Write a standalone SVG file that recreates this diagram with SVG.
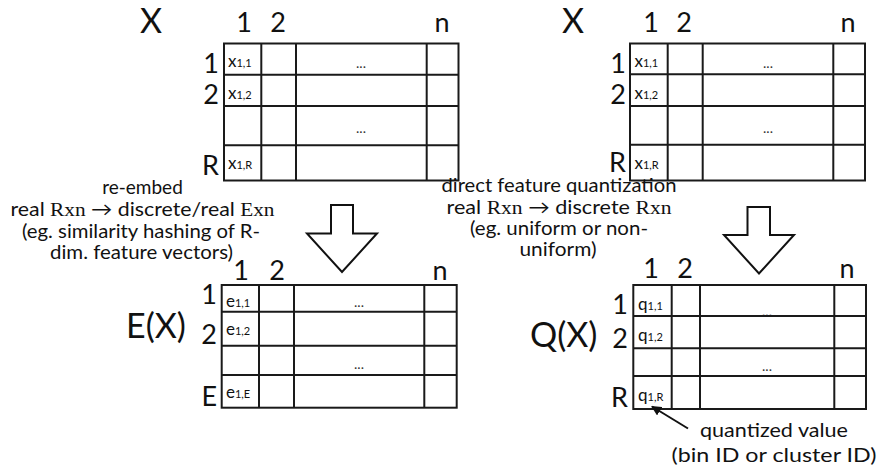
<svg xmlns="http://www.w3.org/2000/svg" width="879" height="470" viewBox="0 0 879 470">
<style>
  text { font-family: Lato, "Open Sans", "DejaVu Sans", sans-serif; fill: #111; }
  .big { font-size: 27px; }
  .huge { font-size: 34px; }
  .cell { font-size: 17px; }
  .sub { font-size: 11px; }
  .dots { font-size: 14px; fill: #333; text-anchor: middle; }
  .desc { font-size: 19px; text-anchor: middle; }
  .serif { font-family: "Liberation Serif", "Times New Roman", serif; }
  .grid { fill: none; stroke: #1a1a1a; stroke-width: 2; }
  .barrow { fill: #fff; stroke: #111; stroke-width: 2; stroke-linejoin: miter; }
  .conn { stroke: #111; stroke-width: 2; fill: none; }
  .mid { text-anchor: middle; }
  .end { text-anchor: end; }
</style>
<defs>
  <marker id="ah" viewBox="0 0 10 10" refX="9" refY="5" markerWidth="5" markerHeight="5" orient="auto">
    <path d="M0,0 L10,5 L0,10 Z" fill="#111"/>
  </marker>
</defs>

<!-- Top-left matrix X -->
<g id="matrix-x-left">
  <text class="huge mid" x="151" y="33">X</text>
  <text class="big mid" x="244" y="32">1</text>
  <text class="big mid" x="278" y="32">2</text>
  <text class="big mid" x="442" y="32">n</text>
  <text class="big end" x="219" y="73">1</text>
  <text class="big end" x="219" y="104">2</text>
  <text class="big end" x="219" y="175">R</text>
  <text class="dots" x="361" y="68">...</text>
  <text class="dots" x="361" y="133">...</text>
  <text class="cell" x="228" y="67">x<tspan class="sub">1,1</tspan></text>
  <text class="cell" x="228" y="99">x<tspan class="sub">1,2</tspan></text>
  <text class="cell" x="228" y="169">x<tspan class="sub">1,R</tspan></text>
  <rect class="grid" x="224" y="43.5" width="234.5" height="137"/>
  <path class="grid" d="M261.3,43.5V180.5M296,43.5V180.5M426.7,43.5V180.5M224,74.7H458.5M224,106H458.5M224,145.3H458.5"/>
</g>

<!-- Top-right matrix X -->
<g id="matrix-x-right">
  <text class="huge mid" x="573" y="33">X</text>
  <text class="big mid" x="651" y="32">1</text>
  <text class="big mid" x="684" y="32">2</text>
  <text class="big mid" x="848" y="32">n</text>
  <text class="big end" x="626" y="73">1</text>
  <text class="big end" x="626" y="104">2</text>
  <text class="big end" x="626" y="172">R</text>
  <text class="dots" x="768" y="68">...</text>
  <text class="dots" x="768" y="133">...</text>
  <text class="cell" x="634.5" y="67">x<tspan class="sub">1,1</tspan></text>
  <text class="cell" x="634.5" y="99">x<tspan class="sub">1,2</tspan></text>
  <text class="cell" x="634.5" y="169">x<tspan class="sub">1,R</tspan></text>
  <rect class="grid" x="630" y="43.5" width="235" height="137"/>
  <path class="grid" d="M667.7,43.5V180.5M702.7,43.5V180.5M833.3,43.5V180.5M630,74.3H865M630,106H865M630,144.7H865"/>
</g>

<!-- Bottom-left matrix E(X) -->
<g id="matrix-ex">
  <text class="huge" x="126" y="338">E(X)</text>
  <text class="big mid" x="241" y="280">1</text>
  <text class="big mid" x="277" y="280">2</text>
  <text class="big mid" x="440" y="280">n</text>
  <text class="big end" x="217" y="304">1</text>
  <text class="big end" x="217" y="344">2</text>
  <text class="big end" x="217" y="406">E</text>
  <text class="dots" x="359" y="307">...</text>
  <text class="dots" x="359" y="369">...</text>
  <text class="cell" x="226" y="307">e<tspan class="sub">1,1</tspan></text>
  <text class="cell" x="226" y="335">e<tspan class="sub">1,2</tspan></text>
  <text class="cell" x="226" y="398">e<tspan class="sub">1,E</tspan></text>
  <rect class="grid" x="221.7" y="285" width="235" height="122.7"/>
  <path class="grid" d="M259,285V407.7M294,285V407.7M424.3,285V407.7M221.7,311.7H456.7M221.7,345.7H456.7M221.7,375H456.7"/>
</g>

<!-- Bottom-right matrix Q(X) -->
<g id="matrix-qx">
  <text class="huge" x="530" y="347">Q(X)</text>
  <text class="big mid" x="651" y="278">1</text>
  <text class="big mid" x="685" y="278">2</text>
  <text class="big mid" x="847" y="278">n</text>
  <text class="big end" x="628" y="314">1</text>
  <text class="big end" x="628" y="348">2</text>
  <text class="big end" x="628" y="407">R</text>
  <text class="dots" x="767" y="316" style="fill:#999">...</text>
  <text class="dots" x="767" y="371">...</text>
  <text class="cell" x="638" y="310">q<tspan class="sub">1,1</tspan></text>
  <text class="cell" x="638" y="341">q<tspan class="sub">1,2</tspan></text>
  <text class="cell" x="638" y="401">q<tspan class="sub">1,R</tspan></text>
  <rect class="grid" x="633.3" y="285" width="232.7" height="124"/>
  <path class="grid" d="M671.7,285V409M700,285V409M834.3,285V409M633.3,316H866M633.3,348.3H866M633.3,376H866"/>
</g>

<!-- Transformation arrows and descriptions -->
<g id="reembed">
  <polygon class="barrow" points="331,205 353,205 353,233.5 377,233.5 342,272 307,233.5 331,233.5"/>
  <text class="desc" x="142.5" y="194">re-embed</text>
  <text class="desc" x="142.5" y="216" textLength="264" lengthAdjust="spacingAndGlyphs">real <tspan class="serif">Rxn</tspan> → discrete/real <tspan class="serif">Exn</tspan></text>
  <text class="desc" x="141" y="238" textLength="238" lengthAdjust="spacingAndGlyphs">(eg. similarity hashing of R-</text>
  <text class="desc" x="141.5" y="259" textLength="183" lengthAdjust="spacingAndGlyphs">dim. feature vectors)</text>
</g>

<g id="quantize">
  <polygon class="barrow" points="747.5,207 770,207 770,235 794,235 759,273.5 724,235 747.5,235"/>
  <text class="desc" x="559" y="192" textLength="235" lengthAdjust="spacingAndGlyphs">direct feature quantization</text>
  <text class="desc" x="559" y="214" textLength="225" lengthAdjust="spacingAndGlyphs">real <tspan class="serif">Rxn</tspan> → discrete <tspan class="serif">Rxn</tspan></text>
  <text class="desc" x="559" y="235" textLength="178" lengthAdjust="spacingAndGlyphs">(eg. uniform or non-</text>
  <text class="desc" x="558" y="256" textLength="77" lengthAdjust="spacingAndGlyphs">uniform)</text>
</g>

<g id="quantized-note">
  <text class="desc" x="774" y="437" textLength="148" lengthAdjust="spacingAndGlyphs">quantized value</text>
  <text class="desc" x="774" y="462" textLength="205" lengthAdjust="spacingAndGlyphs">(bin ID or cluster ID)</text>
</g>

<g id="connectors">
  <line class="conn" x1="688" y1="428.5" x2="652" y2="406.5" marker-end="url(#ah)"/>
</g>
</svg>
